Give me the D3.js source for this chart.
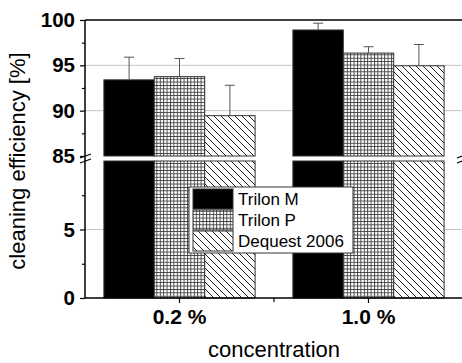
<!DOCTYPE html>
<html><head><meta charset="utf-8">
<script src="https://cdn.jsdelivr.net/npm/d3@7"></script>
<style>
html,body{margin:0;padding:0;background:#fff;}
svg{display:block;font-family:"Liberation Sans",Arial,Helvetica,sans-serif;}
</style></head>
<body>
<svg id="chart" width="462" height="363"></svg>
<script>
// ---- data ----
const concentrations = ["0.2 %", "1.0 %"];
const seriesNames = ["Trilon M", "Trilon P", "Dequest 2006"];
const trilonM = [93.4, 98.9];
const trilonMErr = [2.5, 0.75];
const trilonP = [93.75, 96.35];
const trilonPErr = [2.0, 0.7];
const dequest = [89.45, 94.95];
const dequestErr = [3.35, 2.35];
const upperTicks = [85, 90, 95, 100];
const upperMinor = [87.5, 92.5, 97.5];
const lowerTicks = [0, 5];
const lowerMinor = [2.5, 7.5];
const upperGrid = [90, 95];
const lowerGrid = [5];

const seriesValues = [trilonM, trilonP, dequest];
const seriesErrors = [trilonMErr, trilonPErr, dequestErr];
const fills = ["#000", "url(#gridPat)", "url(#hatchPat)"];

const svg = d3.select("#chart");
const L = 85, R = 463, T = 20, B = 298;

// patterns
const defs = svg.append("defs");
const gp = defs.append("pattern").attr("id", "gridPat").attr("patternUnits", "userSpaceOnUse")
  .attr("width", 3.4).attr("height", 3.4);
gp.append("rect").attr("width", 3.4).attr("height", 3.4).attr("fill", "#fff");
gp.append("path").attr("d", "M0,0.5H3.4M0.5,0V3.4").attr("stroke", "#3a3a3a").attr("stroke-width", 0.9);
const hp = defs.append("pattern").attr("id", "hatchPat").attr("patternUnits", "userSpaceOnUse")
  .attr("width", 7).attr("height", 7);
hp.append("rect").attr("width", 7).attr("height", 7).attr("fill", "#fff");
hp.append("path").attr("d", "M-1,-1L8,8M-1,6L1,8M6,-1L8,1").attr("stroke", "#222").attr("stroke-width", 1);

// scales
const x = d3.scaleBand().domain(concentrations).range([L, R]).paddingInner(0.2).paddingOuter(0.1);
const xs = d3.scaleBand().domain(seriesNames).range([0, x.bandwidth()]);
const yUp = d3.scaleLinear().domain([85, 100]).range([156, T]);
const yLo = d3.scaleLinear().domain([0, 10]).range([B, 161]);

// gridlines
svg.append("g").selectAll("line").data(upperGrid).join("line")
  .attr("x1", L).attr("x2", R).attr("y1", d => yUp(d)).attr("y2", d => yUp(d))
  .attr("stroke", "#c4c4c4").attr("stroke-width", 1);
svg.append("g").selectAll("line").data(lowerGrid).join("line")
  .attr("x1", L).attr("x2", R).attr("y1", d => yLo(d)).attr("y2", d => yLo(d))
  .attr("stroke", "#c4c4c4").attr("stroke-width", 1);

// bars
const bars = [];
seriesNames.forEach((s, si) => {
  concentrations.forEach((c, ci) => {
    bars.push({s, c, si, v: seriesValues[si][ci], e: seriesErrors[si][ci]});
  });
});
const gBars = svg.append("g");
gBars.selectAll("rect.lo").data(bars).join("rect").attr("class", "lo")
  .attr("x", d => x(d.c) + xs(d.s)).attr("width", xs.bandwidth())
  .attr("y", yLo(10)).attr("height", yLo(0) - yLo(10))
  .attr("fill", d => fills[d.si]).attr("stroke", "#333").attr("stroke-width", 1);
gBars.selectAll("rect.up").data(bars).join("rect").attr("class", "up")
  .attr("x", d => x(d.c) + xs(d.s)).attr("width", xs.bandwidth())
  .attr("y", d => yUp(d.v)).attr("height", d => yUp(85) - yUp(d.v))
  .attr("fill", d => fills[d.si]).attr("stroke", "#333").attr("stroke-width", 1);
// error bars (upper only)
const gErr = svg.append("g").attr("stroke", "#555").attr("stroke-width", 1);
bars.forEach(d => {
  const cx = x(d.c) + xs(d.s) + xs.bandwidth() / 2;
  gErr.append("line").attr("x1", cx).attr("x2", cx).attr("y1", yUp(d.v)).attr("y2", yUp(d.v + d.e));
  gErr.append("line").attr("x1", cx - 5).attr("x2", cx + 5).attr("y1", yUp(d.v + d.e)).attr("y2", yUp(d.v + d.e));
});

// frame
svg.append("line").attr("x1", L).attr("x2", R).attr("y1", T).attr("y2", T).attr("stroke", "#000").attr("stroke-width", 1.5);
svg.append("line").attr("x1", L).attr("x2", R).attr("y1", B).attr("y2", B).attr("stroke", "#000").attr("stroke-width", 1.5);
svg.append("line").attr("x1", L).attr("x2", L).attr("y1", T).attr("y2", B).attr("stroke", "#000").attr("stroke-width", 1.5);

// y axes
function styleAxis(g, size) {
  g.select(".domain").remove();
  g.selectAll(".tick line").attr("stroke", "#000").attr("stroke-width", 1.2);
  g.selectAll(".tick text").attr("font-size", size || 20).attr("font-weight", "bold")
    .attr("font-family", "'Liberation Sans',Arial,sans-serif").attr("fill", "#000");
}
svg.append("g").attr("transform", `translate(${L},0)`)
  .call(d3.axisLeft(yUp).tickValues(upperTicks).tickSize(5).tickPadding(5).tickFormat(d3.format("d"))).call(g => styleAxis(g, 20.5));
svg.append("g").attr("transform", `translate(${L},0)`)
  .call(d3.axisLeft(yUp).tickValues(upperMinor).tickSize(3).tickFormat("")).call(g => styleAxis(g));
svg.append("g").attr("transform", `translate(${L},0)`)
  .call(d3.axisLeft(yLo).tickValues(lowerTicks).tickSize(5).tickPadding(5).tickFormat(d3.format("d"))).call(g => styleAxis(g, 20.5));
svg.append("g").attr("transform", `translate(${L},0)`)
  .call(d3.axisLeft(yLo).tickValues(lowerMinor).tickSize(3).tickFormat("")).call(g => styleAxis(g));

// x axis
svg.append("g").attr("transform", `translate(0,${B})`)
  .call(d3.axisBottom(x).tickSize(5).tickPadding(5)).call(g => styleAxis(g, 21))
  .selectAll(".tick text").attr("dy", "0.76em");
const xMid = (x(concentrations[0]) + x.bandwidth() + x(concentrations[1])) / 2;
svg.append("line").attr("x1", xMid).attr("x2", xMid).attr("y1", B).attr("y2", B + 4).attr("stroke", "#000").attr("stroke-width", 1.2);

// break marks
const gapMid = (yUp(85) + yLo(10)) / 2;
const gb = svg.append("g").attr("stroke", "#000").attr("stroke-width", 1.2);
[-2.5, 2.5].forEach(o => {
  gb.append("line").attr("x1", L - 5).attr("x2", L + 6).attr("y1", gapMid + o + 2).attr("y2", gapMid + o - 2);
});
[-2.5, 2.5].forEach(o => {
  gb.append("line").attr("x1", R - 6).attr("x2", R + 5).attr("y1", gapMid + o + 2).attr("y2", gapMid + o - 2);
});

// axis titles
svg.append("text").attr("transform", `translate(25,${(T + B) / 2 + 2}) rotate(-90)`)
  .attr("text-anchor", "middle").attr("font-size", 22).attr("fill", "#000").text("cleaning efficiency [%]");
svg.append("text").attr("x", (L + R) / 2).attr("y", 357)
  .attr("text-anchor", "middle").attr("font-size", 22).attr("fill", "#000").text("concentration");

// legend
const lg = svg.append("g").attr("transform", "translate(189,187)");
lg.append("rect").attr("width", 164).attr("height", 66).attr("fill", "#fff").attr("stroke", "#333").attr("stroke-width", 1);
seriesNames.forEach((s, i) => {
  lg.append("rect").attr("x", 4).attr("y", 2 + i * 21).attr("width", 40).attr("height", 20)
    .attr("fill", fills[i]).attr("stroke", "#333").attr("stroke-width", 1);
  lg.append("text").attr("x", 49).attr("y", 12 + i * 21).attr("dy", "0.35em")
    .attr("font-size", 17).attr("fill", "#000").text(s);
});
</script>
</body></html>
